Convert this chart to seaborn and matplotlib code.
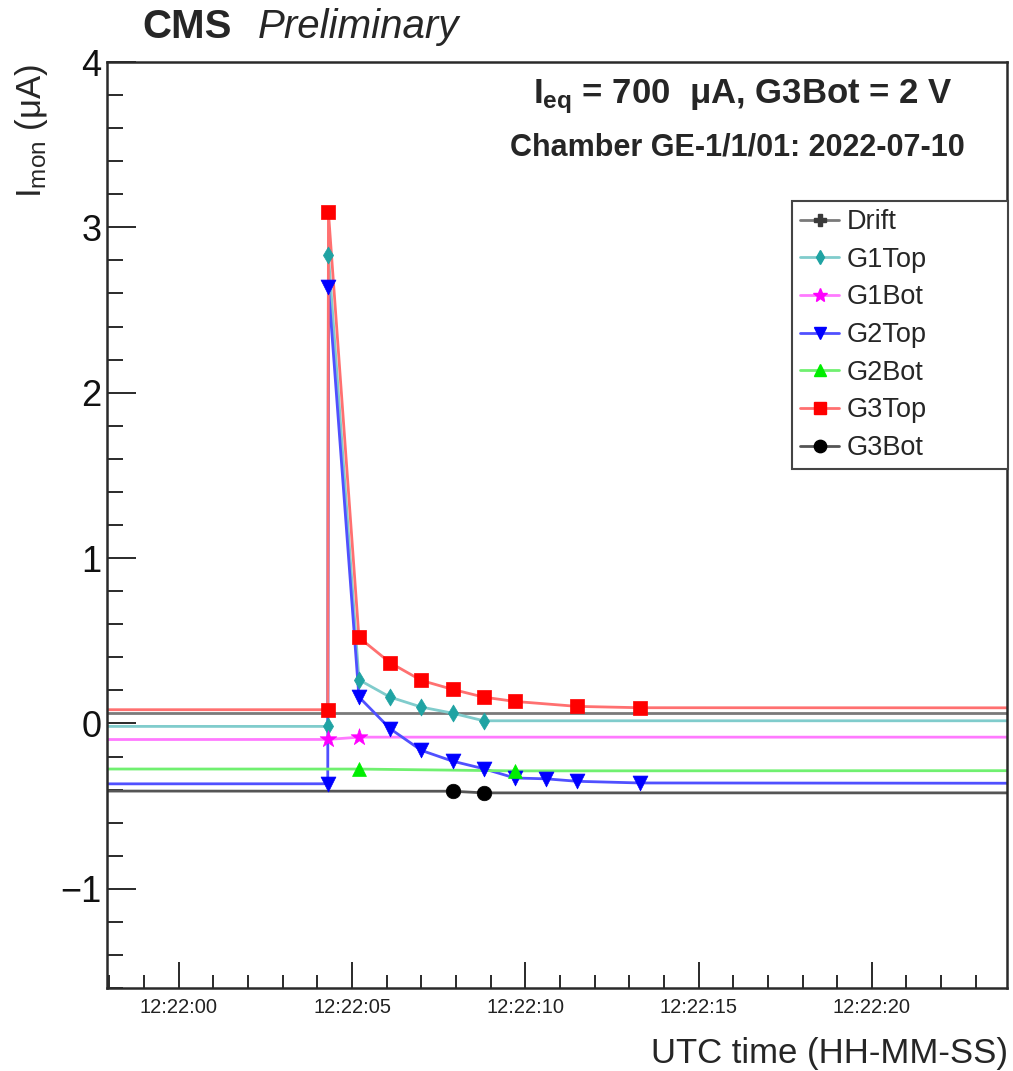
import matplotlib
matplotlib.use("Agg")
import matplotlib.pyplot as plt
from matplotlib.ticker import MultipleLocator, FuncFormatter
from matplotlib.lines import Line2D
import seaborn as sns
import pandas as pd

# HV monitor readings: seconds after 12:22:00 UTC, current in uA.
# The first and last reading of each channel lie outside the time window shown.
channels = ["Drift", "G1Top", "G1Bot", "G2Top", "G2Bot", "G3Top", "G3Bot"]

drift_t = [-40.0, 45.0]
drift_i = [0.065, 0.065]

g1top_t = [-40.0, 4.30, 4.32, 5.2, 6.1, 7.0, 7.9, 8.8, 45.0]
g1top_i = [-0.018, -0.018, 2.83, 0.264, 0.159, 0.099, 0.062, 0.016, 0.016]

g1bot_t = [-40.0, 4.30, 5.2, 45.0]
g1bot_i = [-0.099, -0.097, -0.083, -0.083]

g2top_t = [-40.0, 4.30, 4.32, 5.2, 6.1, 7.0, 7.9, 8.8, 9.7, 10.6, 11.5, 13.3, 45.0]
g2top_i = [-0.368, -0.365, 2.64, 0.16, -0.032, -0.163, -0.228, -0.274,
           -0.33, -0.335, -0.35, -0.36, -0.365]

g2bot_t = [-40.0, 5.2, 9.7, 45.0]
g2bot_i = [-0.274, -0.276, -0.287, -0.284]

g3top_t = [-40.0, 4.30, 4.32, 5.2, 6.1, 7.0, 7.9, 8.8, 9.7, 11.5, 13.3, 45.0]
g3top_i = [0.083, 0.083, 3.09, 0.52, 0.367, 0.26, 0.206, 0.159, 0.133, 0.103, 0.095, 0.093]

g3bot_t = [-40.0, 7.9, 8.8, 45.0]
g3bot_i = [-0.405, -0.41, -0.42, -0.42]

series_t = [drift_t, g1top_t, g1bot_t, g2top_t, g2bot_t, g3top_t, g3bot_t]
series_i = [drift_i, g1top_i, g1bot_i, g2top_i, g2bot_i, g3top_i, g3bot_i]

# marker colours and the lighter tones used for the connecting lines
colors = {"Drift": "#3a3a3a", "G1Top": "#1fa3a3", "G1Bot": "#ff00ff",
          "G2Top": "#0000ff", "G2Bot": "#00ee00", "G3Top": "#ff0000",
          "G3Bot": "#000000"}
line_colors = {"Drift": "#7a7a7a", "G1Top": "#80cccc", "G1Bot": "#ff7aff",
               "G2Top": "#5050ff", "G2Bot": "#70f070", "G3Top": "#ff7070",
               "G3Bot": "#555555"}
markers = {"Drift": "P", "G1Top": "d", "G1Bot": "*", "G2Top": "v",
           "G2Bot": "^", "G3Top": "s", "G3Bot": "o"}
msize = {"Drift": 100, "G1Top": 75, "G1Bot": 160, "G2Top": 115,
         "G2Bot": 100, "G3Top": 110, "G3Bot": 110}

rows = []
for ch, ts, vs in zip(channels, series_t, series_i):
    for t, v in zip(ts, vs):
        rows.append({"channel": ch, "t": t, "I": v})
df = pd.DataFrame(rows)

sns.set_theme(style="ticks")
plt.rcParams["font.family"] = ["Liberation Sans", "DejaVu Sans"]
plt.rcParams["mathtext.default"] = "regular"

W, H = 1013, 1071
fig = plt.figure(figsize=(W / 100, H / 100), dpi=100)
ax = fig.add_axes([107 / W, 1 - 988 / H, 900 / W, 926 / H])

sns.lineplot(data=df, x="t", y="I", hue="channel", palette=line_colors,
             hue_order=channels, sort=False, estimator=None,
             linewidth=2.0, legend=False, ax=ax, zorder=2)

for ch, ts, vs in zip(channels, series_t, series_i):
    sns.scatterplot(x=ts, y=vs, marker=markers[ch], s=msize[ch],
                    color=colors[ch], edgecolor=colors[ch], linewidth=0.5,
                    ax=ax, zorder=3, legend=False)

ax.set_xlim(-2.07, 23.9)
ax.set_ylim(-1.6, 4.0)

ax.xaxis.set_major_locator(MultipleLocator(5))
ax.xaxis.set_minor_locator(MultipleLocator(1))
ax.xaxis.set_major_formatter(FuncFormatter(lambda v, p: f"12:22:{int(round(v)):02d}"))
ax.yaxis.set_major_locator(MultipleLocator(1))
ax.yaxis.set_minor_locator(MultipleLocator(0.2))

axis_col = "#2a2a2a"
for sp in ax.spines.values():
    sp.set_color(axis_col)
    sp.set_linewidth(1.8)

ax.tick_params(axis="x", which="both", direction="in", bottom=True, top=False,
               color=axis_col, width=1.4, labelsize=14.5, pad=7, labelcolor="#222222")
ax.tick_params(axis="x", which="major", length=19)
ax.tick_params(axis="x", which="minor", length=9.5)
ax.tick_params(axis="y", which="both", direction="in", left=True, right=False,
               color=axis_col, width=1.4, labelsize=26, pad=4, labelcolor="#111111")
ax.tick_params(axis="y", which="major", length=21)
ax.tick_params(axis="y", which="minor", length=11.5)
ax.set_xlabel("")
ax.set_ylabel("")
ax.grid(False)

# legend entries: light line with the solid marker on it
handles = [Line2D([], [], color=line_colors[ch], lw=2.0, marker=markers[ch],
                  markersize=msize[ch] ** 0.5 * 0.85,
                  markerfacecolor=colors[ch], markeredgecolor=colors[ch])
           for ch in channels]
ax_w, ax_h = 900, 926
leg = ax.legend(handles, channels, loc="upper left",
                bbox_to_anchor=((792 - 107) / ax_w, (988 - 201) / ax_h,
                                (1008 - 792) / ax_w, 0.0),
                mode="expand", borderaxespad=0, fontsize=19.5, frameon=True,
                fancybox=False, edgecolor="#444444", framealpha=1,
                handlelength=1.45, handletextpad=0.28, borderpad=0.3,
                labelspacing=0.43)
leg.get_frame().set_linewidth(1.5)

fig.text(142 / W, 1 - 38 / H, "CMS", fontsize=29, fontweight="bold",
         ha="left", va="baseline")
fig.text(258 / W, 1 - 38 / H, "Preliminary", fontsize=29, fontstyle="italic",
         ha="left", va="baseline")
fig.text(743 / W, 1 - 103 / H, "I$_{eq}$ = 700  μA, G3Bot = 2 V", fontsize=25,
         fontweight="bold", ha="center", va="baseline")
fig.text(737 / W, 1 - 155 / H, "Chamber GE-1/1/01: 2022-07-10", fontsize=22,
         fontweight="bold", ha="center", va="baseline")
fig.text(32 / W, 1 - 64 / H, "I$_{mon}$ (μA)", fontsize=25, rotation=90,
         ha="center", va="top")
fig.text(1008 / W, 1 - 1063 / H, "UTC time (HH-MM-SS)", fontsize=25,
         ha="right", va="baseline")

fig.savefig("out.png", dpi=100, facecolor="white")
